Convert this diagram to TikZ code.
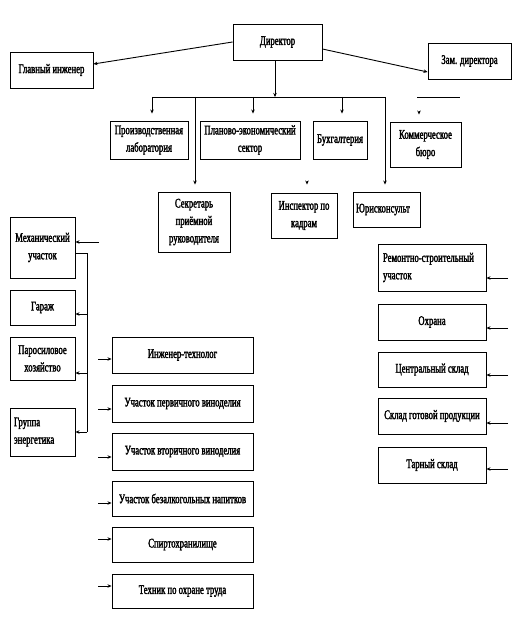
\documentclass[tikz,border=0pt]{standalone}
\usepackage{fontspec}
\setmainfont{Liberation Serif}[FakeStretch=0.66,FakeBold=2]
\usetikzlibrary{arrows.meta}
\newcommand{\tx}{\fontsize{13.2}{17.5}\selectfont}
\begin{document}
\begin{tikzpicture}[x=1bp,y=-1bp,
  box/.style={draw, line width=0.9bp, rectangle, inner sep=1bp, align=center, font=\tx},
  lbox/.style={draw, line width=0.9bp, rectangle, inner ysep=1bp, align=left, font=\tx},
  arr/.style={-{Stealth[length=4bp,width=3.5bp]}, line width=0.9bp},
  ln/.style={line width=0.9bp}]
\useasboundingbox (0,0) rectangle (527,625);

% top level
\node[box, minimum width=89bp, minimum height=36bp] (dir) at (277.5,42) {Директор};
\node[box, minimum width=83bp, minimum height=36bp] (gi) at (51.5,70) {Главный инженер};
\node[box, minimum width=83bp, minimum height=36bp] (zam) at (469.5,61) {Зам. директора};

% second row
\node[box, minimum width=78bp, minimum height=38bp] (lab) at (149,140) {Производственная\\лаборатория};
\node[box, minimum width=100bp, minimum height=38bp] (plan) at (250,140) {Планово-экономический\\сектор};
\node[box, minimum width=54bp, minimum height=38bp] (buh) at (340,140) {Бухгалтерия};
\node[box, minimum width=71bp, minimum height=45bp] (kom) at (425.5,144.5) {Коммерческое\\бюро};

% third row
\node[box, minimum width=72bp, minimum height=60bp] (sec) at (194,222) {Секретарь\\приёмной\\руководителя};
\node[box, minimum width=66bp, minimum height=45bp] (insp) at (304,215.5) {Инспектор по\\кадрам};
\node[lbox, inner xsep=3bp, text width=61bp, minimum height=35bp] (jur) at (386.5,209.5) {Юрисконсульт};

% left column
\node[box, minimum width=65bp, minimum height=61bp] (mech) at (42.5,247.5) {Механический\\участок};
\node[box, minimum width=65bp, minimum height=35bp] (gar) at (42.5,307.5) {Гараж};
\node[box, minimum width=65bp, minimum height=43bp] (par) at (42.5,358.5) {Паросиловое\\хозяйство};
\node[lbox, inner xsep=4bp, text width=57bp, minimum height=48bp] (grp) at (42.5,432) {Группа\\энергетика};

% middle column
\node[box, minimum width=141bp, minimum height=36bp] (ing) at (182.5,355) {Инженер-технолог};
\node[box, minimum width=141bp, minimum height=37bp] (perv) at (182.5,403.5) {Участок первичного виноделия};
\node[box, minimum width=141bp, minimum height=37bp] (vtor) at (182.5,451.5) {Участок вторичного виноделия};
\node[box, minimum width=141bp, minimum height=35bp] (bez) at (182.5,498.5) {Участок безалкогольных напитков};
\node[box, minimum width=141bp, minimum height=35bp] (spirt) at (182.5,544.5) {Спиртохранилище};
\node[box, minimum width=141bp, minimum height=34bp] (tech) at (182.5,591) {Техник по охране труда};

% right column
\node[lbox, inner xsep=5bp, text width=98bp, minimum height=47bp] (rem) at (432,267.5) {Ремонтно-строительный\\участок};
\node[box, minimum width=108bp, minimum height=36bp] (ohr) at (432,322) {Охрана};
\node[box, minimum width=108bp, minimum height=35bp] (cen) at (432,369.5) {Центральный склад};
\node[box, minimum width=108bp, minimum height=36bp] (skl) at (432,416) {Склад готовой продукции};
\node[box, minimum width=108bp, minimum height=36bp] (tar) at (432,465) {Тарный склад};

% connectors from director
\draw[arr] (dir.west) -- ([yshift=6bp]gi.east);
\draw[arr] ([yshift=-7bp]dir.east) -- ([yshift=-11bp]zam.west);
\coordinate (busL) at (152,97);
\coordinate (busR) at (385,97);
\draw[arr] ([xshift=-2.5bp]dir.south) -- ([xshift=-2.5bp]dir.south |- busL);
\draw[ln] (busL) -- (busR);
\draw[arr, shorten >=7bp] (busL) -- (busL |- lab.north);
\draw[arr, shorten >=7bp] ([xshift=3bp]plan.north |- busL) -- ([xshift=3bp]plan.north);
\draw[arr, shorten >=7bp] ([xshift=2bp]buh.north |- busL) -- ([xshift=2bp]buh.north);
\draw[arr, shorten >=7bp] ([xshift=1bp]sec.north |- busL) -- ([xshift=1bp]sec.north);
\draw[arr, shorten >=7bp] (busR) -- (busR |- jur.north);
% loose fragments
\coordinate (k1) at (417,97);
\coordinate (k2) at (460,97);
\draw[ln] (k1) -- (k2);
\draw[arr, shorten >=7bp] ([xshift=-6.5bp,yshift=11bp]kom.north) -- ([xshift=-6.5bp]kom.north);
\draw[arr, shorten >=8bp] ([xshift=3bp,yshift=12bp]insp.north) -- ([xshift=3bp]insp.north);

% left column connectors
\coordinate (m0) at (99,242);
\draw[arr] (m0) -- (m0 -| mech.east);
\coordinate (lb) at (87,253);
\draw[ln] (mech.east |- lb) -- (lb) -- (lb |- grp.east);
\draw[arr] (lb |- 0,314) -- (gar.east |- 0,314);
\draw[arr] (lb |- 0,373) -- (par.east |- 0,373);
\draw[arr] (lb |- grp.east) -- (grp.east);

% middle column arrows
\foreach \n/\yy in {ing/359, perv/409, vtor/457, bez/503, spirt/539, tech/586}{
  \coordinate (a\n) at (98,\yy);
  \draw[arr] (a\n) -- (a\n -| \n.west);
}

% right column arrows
\foreach \n/\yy in {rem/278, ohr/328, cen/375, skl/423, tar/469}{
  \coordinate (b\n) at (508,\yy);
  \draw[arr] (b\n) -- (b\n -| \n.east);
}
\end{tikzpicture}
\end{document}
